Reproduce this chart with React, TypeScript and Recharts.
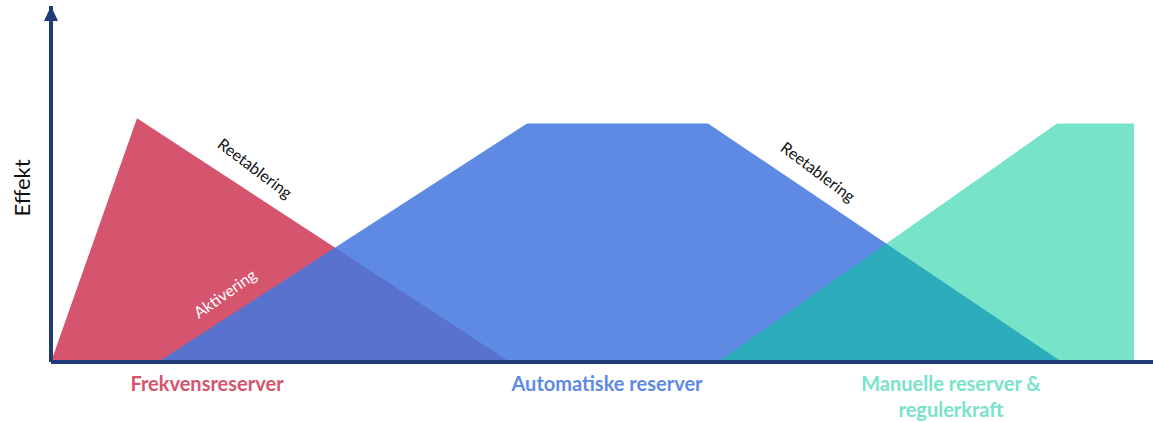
import React from 'react';
import { ComposedChart, Area, XAxis, YAxis, ReferenceDot } from 'recharts';

// x in time units from the y-axis, y as % effect
const frekvensData = [
  { x: 0, y: 0 },
  { x: 86, y: 68.5 },
  { x: 459, y: 0 },
];

const automatiskData = [
  { x: 107, y: 0 },
  { x: 476, y: 67 },
  { x: 657, y: 67 },
  { x: 1011, y: 0 },
];

const manuellData = [
  { x: 667, y: 0 },
  { x: 1006, y: 67 },
  { x: 1083, y: 67 },
  { x: 1083, y: 0 },
];

const categoryTicks = [156, 556, 900];
const categoryLabels = [['Frekvensreserver'], ['Automatiske reserver'], ['Manuelle reserver &', 'regulerkraft']];
const categoryColors = ['#D5546E', '#5E8AE3', '#78E3C9'];

const notes = [
  { x: 203, y: 54, text: 'Reetablering', angle: 37, color: '#111111' },
  { x: 766, y: 53, text: 'Reetablering', angle: 37, color: '#111111' },
  { x: 175, y: 18.8, text: 'Aktivering', angle: -35, color: '#FFFFFF' },
];

const AXIS = '#1E3A7B';
const FONT = 'Lato, "Open Sans", sans-serif';

function CategoryTick({ x, y, payload }: any) {
  const i = categoryTicks.indexOf(payload.value);
  if (i < 0) return null;
  return (
    <g>
      {categoryLabels[i].map((line, k) => (
        <text
          key={k}
          x={x}
          y={y + 29 + k * 26}
          textAnchor="middle"
          fill={categoryColors[i]}
          fontSize={20}
          fontWeight={700}
          fontFamily={FONT}
        >
          {line}
        </text>
      ))}
    </g>
  );
}

export default function App() {
  return (
    <div style={{ width: 1153, height: 422, background: '#fff' }}>
      <style>{`body{margin:0}`}</style>
      <ComposedChart width={1153} height={422} margin={{ top: 6, right: 0, bottom: 0, left: 0 }}>
        <XAxis
          type="number"
          dataKey="x"
          domain={[0, 1102]}
          allowDataOverflow
          ticks={categoryTicks}
          interval={0}
          tick={<CategoryTick />}
          tickLine={false}
          tickSize={0}
          tickMargin={0}
          height={60}
          axisLine={{ stroke: AXIS, strokeWidth: 4 }}
        />
        <YAxis
          type="number"
          domain={[0, 100]}
          allowDataOverflow
          width={51}
          tick={false}
          tickLine={false}
          axisLine={{ stroke: AXIS, strokeWidth: 4 }}
          label={{
            content: ({ viewBox }: any) => (
              <text
                x={viewBox.x + 30}
                y={viewBox.y + 182}
                transform={`rotate(-90, ${viewBox.x + 30}, ${viewBox.y + 182})`}
                textAnchor="middle"
                fill="#111"
                fontSize={22}
                fontFamily={FONT}
              >
                Effekt
              </text>
            ),
          }}
        />
        <Area
          data={frekvensData}
          dataKey="y"
          type="linear"
          fill="#D5546E"
          fillOpacity={1}
          stroke="none"
          isAnimationActive={false}
        />
        <Area
          data={automatiskData}
          dataKey="y"
          type="linear"
          fill="rgb(68,119,222)"
          fillOpacity={0.86}
          stroke="none"
          isAnimationActive={false}
        />
        <Area
          data={manuellData}
          dataKey="y"
          type="linear"
          fill="rgb(4,204,155)"
          fillOpacity={0.54}
          stroke="none"
          isAnimationActive={false}
        />
        {notes.map((n, i) => (
          <ReferenceDot
            key={i}
            x={n.x}
            y={n.y}
            ifOverflow="visible"
            shape={(p: any) => (
              <text
                x={p.cx}
                y={p.cy}
                transform={`rotate(${n.angle}, ${p.cx}, ${p.cy})`}
                textAnchor="middle"
                dominantBaseline="middle"
                fill={n.color}
                fontSize={16}
                fontFamily={FONT}
              >
                {n.text}
              </text>
            )}
          />
        ))}
        {/* arrow head on the y-axis */}
        <ReferenceDot
          x={0}
          y={100}
          ifOverflow="visible"
          shape={(p: any) => (
            <polygon
              points={`${p.cx},${p.cy} ${p.cx - 7},${p.cy + 15} ${p.cx + 7},${p.cy + 15}`}
              fill={AXIS}
            />
          )}
        />
      </ComposedChart>
    </div>
  );
}
